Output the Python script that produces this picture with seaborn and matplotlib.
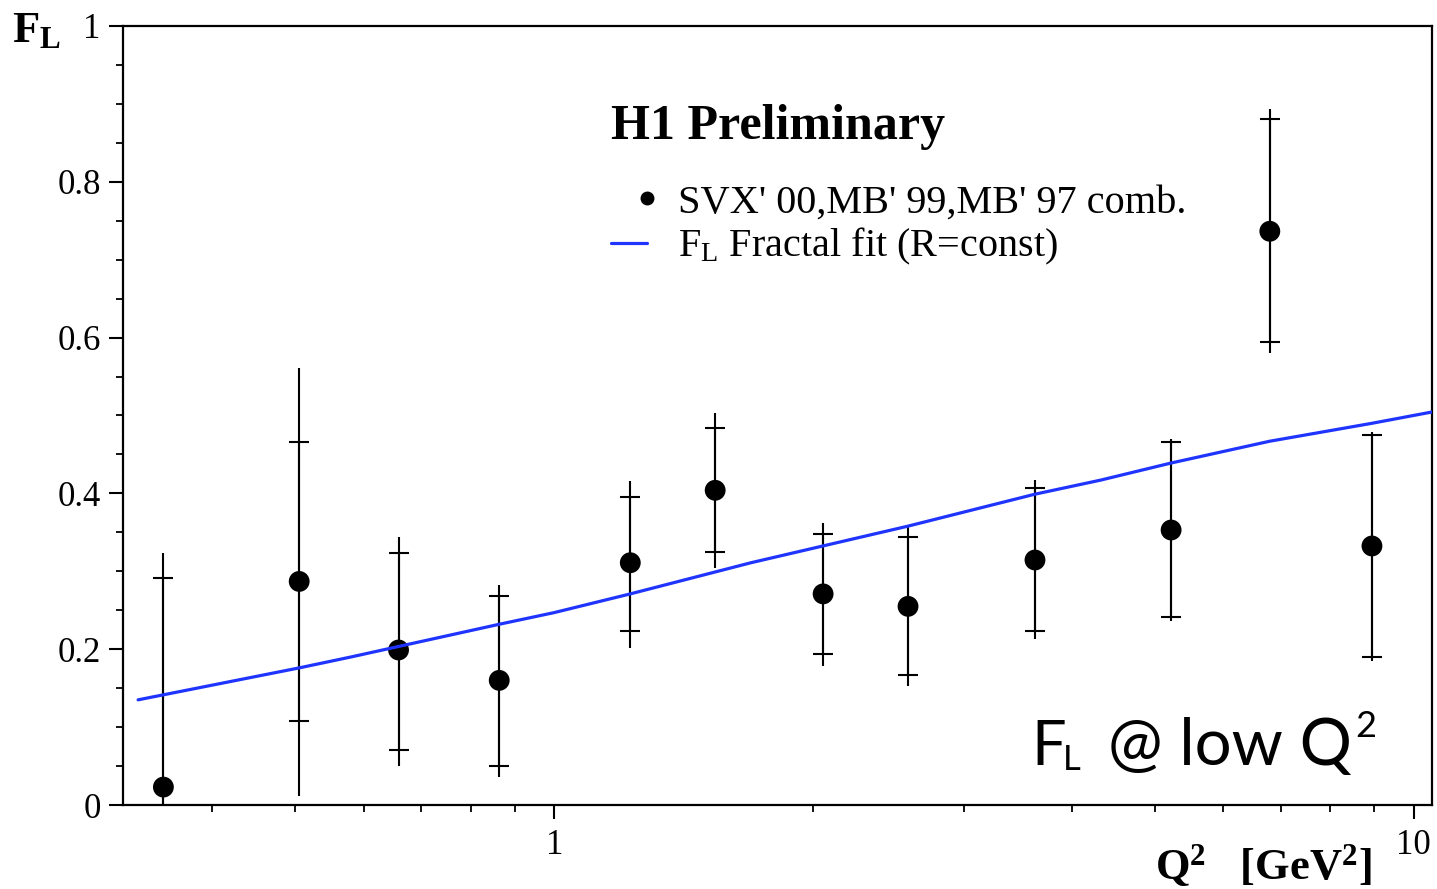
import numpy as np
import pandas as pd
import matplotlib
matplotlib.use("Agg")
import matplotlib.pyplot as plt
from matplotlib.lines import Line2D
from matplotlib.legend_handler import HandlerLine2D
from matplotlib.ticker import FixedLocator, NullFormatter, MultipleLocator
import seaborn as sns

# Measured longitudinal structure function F_L at low Q^2
q2 = [0.351, 0.505, 0.659, 0.863, 1.226, 1.539, 2.055, 2.580, 3.625, 5.22, 6.80, 8.94]
fl = [0.023, 0.287, 0.199, 0.160, 0.311, 0.404, 0.271, 0.255, 0.3145, 0.353, 0.7365, 0.3325]
# statistical error band (inner, with caps)
stat_hi = [0.292, 0.466, 0.323, 0.268, 0.395, 0.484, 0.348, 0.344, 0.407, 0.466, 0.880, 0.475]
stat_lo = [-0.246, 0.108, 0.0706, 0.050, 0.223, 0.325, 0.194, 0.167, 0.223, 0.241, 0.594, 0.190]
# total error band (outer)
tot_hi = [0.324, 0.561, 0.344, 0.282, 0.416, 0.503, 0.362, 0.357, 0.417, 0.470, 0.893, 0.479]
tot_lo = [-0.278, 0.012, 0.050, 0.036, 0.2015, 0.304, 0.178, 0.153, 0.213, 0.236, 0.580, 0.185]

# Fractal fit curve
fit_q2 = [0.328, 0.505, 0.58, 0.863, 1.0, 1.226, 1.694, 2.58, 3.625, 4.32, 5.22, 6.80, 8.94, 10.5]
fit_fl = [0.135, 0.176, 0.190, 0.232, 0.247, 0.271, 0.311, 0.358, 0.399, 0.417, 0.439, 0.467, 0.490, 0.5045]

data_label = "SVX' 00,MB' 99,MB' 97 comb."
fit_label = r"$\mathrm{F}_\mathrm{L}$ Fractal fit (R=const)"

sns.set_theme(style="ticks")
plt.rcParams["font.family"] = ["Liberation Serif", "DejaVu Serif"]
plt.rcParams["mathtext.fontset"] = "custom"
plt.rcParams["mathtext.rm"] = "Liberation Serif"
plt.rcParams["mathtext.bf"] = "Liberation Serif:bold"
plt.rcParams["mathtext.it"] = "Liberation Serif:italic"
plt.rcParams["text.color"] = "black"
plt.rcParams["axes.labelcolor"] = "black"
plt.rcParams["xtick.color"] = "black"
plt.rcParams["ytick.color"] = "black"

W, H = 1437, 889
fig = plt.figure(figsize=(W / 100, H / 100), dpi=100)
fig.patch.set_facecolor("white")
ax = fig.add_axes([123 / W, 1 - 805 / H, (1432 - 123) / W, (805 - 26) / H])
ax.set_facecolor("white")

df = pd.DataFrame({"q2": q2, "fl": fl})
fit_df = pd.DataFrame({"q2": fit_q2, "fl": fit_fl})

q2a = np.array(q2)
fla = np.array(fl)
# total errors: plain vertical line
ax.errorbar(q2a, fla, yerr=[fla - np.array(tot_lo), np.array(tot_hi) - fla],
            fmt="none", ecolor="black", elinewidth=1.5, capsize=0, zorder=2)
# statistical errors: horizontal caps
ax.errorbar(q2a, fla, yerr=[fla - np.array(stat_lo), np.array(stat_hi) - fla],
            fmt="none", ecolor="black", elinewidth=1.5, capsize=7.5, capthick=1.5, zorder=2)

sns.scatterplot(data=df, x="q2", y="fl", ax=ax, color="black", s=225,
                edgecolor="none", linewidth=0, zorder=3, legend=False)
sns.lineplot(data=fit_df, x="q2", y="fl", ax=ax, color="#1f35ff", linewidth=2.3,
             zorder=4, legend=False, estimator=None, sort=True)

ax.set_xscale("log")
ax.set_xlim(0.315, 10.5)
ax.set_ylim(0, 1)
ax.set_xlabel("")
ax.set_ylabel("")

# axis ticks
ax.xaxis.set_major_locator(FixedLocator([1, 10]))
ax.xaxis.set_minor_locator(FixedLocator([0.4, 0.5, 0.6, 0.7, 0.8, 0.9,
                                         2, 3, 4, 5, 6, 7, 8, 9]))
ax.xaxis.set_minor_formatter(NullFormatter())
ax.set_xticklabels(["1", "10"])
ax.yaxis.set_major_locator(FixedLocator([0, 0.2, 0.4, 0.6, 0.8, 1.0]))
ax.set_yticklabels(["0", "0.2", "0.4", "0.6", "0.8", "1"])
ax.yaxis.set_minor_locator(MultipleLocator(0.05))
ax.tick_params(which="major", direction="out", length=10, width=1.5,
               labelsize=25, pad=6, color="black", labelcolor="black")
ax.tick_params(which="minor", direction="out", length=5, width=1.3, color="black")
ax.tick_params(axis="x", which="major", pad=7)
ax.tick_params(top=False, right=False)
for s in ax.spines.values():
    s.set_visible(True)
    s.set_color("black")
    s.set_linewidth(1.6)


class RightMarkerHandler(HandlerLine2D):
    """Legend handler that puts a single marker at the right end of the handle box."""

    def get_xdata(self, legend, xdescent, ydescent, width, height, fontsize):
        xr = -xdescent + width
        xdata = np.array([xr - 1.0, xr + 1.0])
        return xdata, np.array([xr])


# legend
dot_handle = Line2D([], [], marker="o", color="black", linestyle="none", markersize=9)
fit_handle = Line2D([], [], color="#1f35ff", linewidth=2.3)
leg = ax.legend([dot_handle, fit_handle], [data_label, fit_label], loc="upper left",
                bbox_to_anchor=((595 - 123) / (1432 - 123), 1 - (168 - 26) / (805 - 26)),
                frameon=False, fontsize=29, handlelength=0.9, handletextpad=0.75,
                labelspacing=0.12, borderaxespad=0,
                handler_map={dot_handle: RightMarkerHandler(numpoints=1)})


def ftext(x, y, s, **kw):
    return fig.text(x / W, 1 - y / H, s, **kw)


ftext(611, 139, "H1 Preliminary", fontsize=36, fontweight="bold",
      ha="left", va="baseline")
ftext(12, 42, r"$\mathbf{F}_\mathbf{L}$", fontsize=32, ha="left", va="baseline")
ftext(1372, 879, r"$\mathbf{Q^2}$   [$\mathbf{GeV^2}$]", fontsize=32,
      fontweight="bold", ha="right", va="baseline")

# annotation in a rounded sans face
cfont = ["Lato", "DejaVu Sans"]
ftext(1031, 765, "F", fontsize=44, family=cfont, ha="left", va="baseline")
ftext(1063, 770, "L", fontsize=25, family=cfont, ha="left", va="baseline")
qt = ftext(1108, 765, "@ low Q", fontsize=47, family=cfont, ha="left", va="baseline")
fig.canvas.draw()
bb = qt.get_window_extent(renderer=fig.canvas.get_renderer())
fig.text(bb.x1 / W + 3 / W, 1 - 737 / H, "2", fontsize=26, family=cfont,
         ha="left", va="baseline")

fig.savefig("out.png", dpi=100, facecolor="white")
